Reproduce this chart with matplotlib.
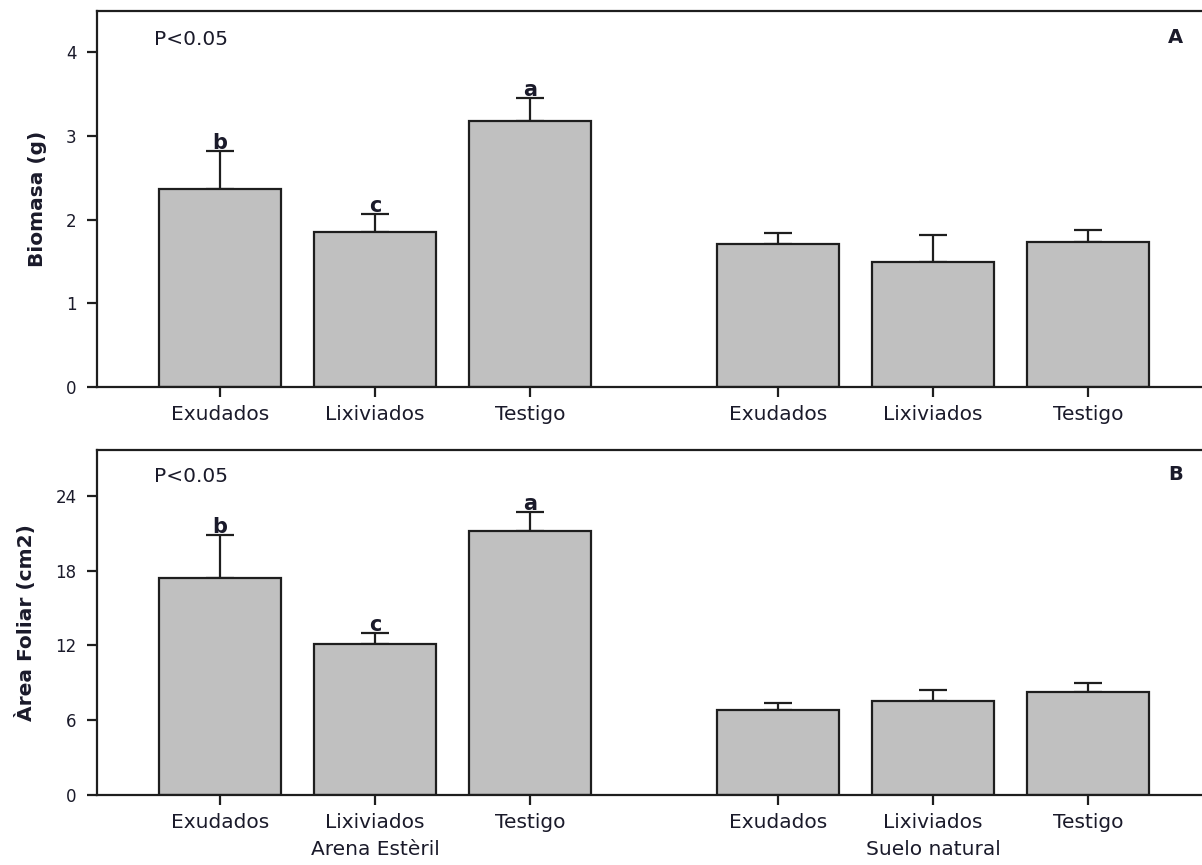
import numpy as np
import matplotlib.pyplot as plt

# treatments per substrate
tratamientos = ["Exudados", "Lixiviados", "Testigo", "Exudados", "Lixiviados", "Testigo"]
sustratos = ["Arena Estèril", "Suelo natural"]

# biomass (g): means and upper error
biomasa = [2.36, 1.85, 3.18, 1.71, 1.49, 1.73]
biomasa_err = [0.46, 0.21, 0.27, 0.13, 0.33, 0.14]
biomasa_letras = ["b", "c", "a", "", "", ""]

# leaf area (cm2): means and upper error
area = [17.38, 12.07, 21.2, 6.76, 7.48, 8.21]
area_err = [3.46, 0.91, 1.49, 0.56, 0.89, 0.72]
area_letras = ["b", "c", "a", "", "", ""]

x = np.array([0, 1, 2, 3.6, 4.6, 5.6])

plt.rcParams["font.family"] = "DejaVu Sans"
fig = plt.figure(figsize=(12.02, 8.65), dpi=100)
ax1 = fig.add_axes([0.0811, 0.5526, 0.9189, 0.4347])
ax2 = fig.add_axes([0.0811, 0.0815, 0.9189, 0.3983])

txt = "#1a1a2a"


def panel(ax, vals, errs, letras, ylim, yticks, ylabel, tag):
    ax.bar(x, vals, width=0.79, color="#c0c0c0", edgecolor="#1e1e1e",
           linewidth=1.6, zorder=2)
    ax.errorbar(x, vals, yerr=[np.zeros(len(vals)), errs], fmt="none",
                ecolor="#1e1e1e", elinewidth=1.6, capsize=10.4, capthick=1.6,
                zorder=1)
    # significance letters sitting on the caps
    for xi, v, e, l in zip(x, vals, errs, letras):
        if l:
            ax.annotate(l, (xi, v + e), xytext=(0, 1.5), textcoords="offset points",
                        ha="center", va="baseline", fontsize=15,
                        fontweight="bold", color=txt)
    ax.set_xlim(-0.79, 6.335)
    ax.set_ylim(0, ylim)
    ax.set_yticks(yticks)
    ax.set_xticks(x)
    ax.set_xticklabels(tratamientos, fontsize=14.5, color=txt)
    ax.tick_params(axis="y", labelsize=12, colors="#1e1e1e", labelcolor=txt,
                   length=7, width=1.6, pad=8)
    ax.tick_params(axis="x", length=7, width=1.6, pad=6, colors="#1e1e1e",
                   labelcolor=txt)
    for s in ["left", "bottom", "top"]:
        ax.spines[s].set_linewidth(1.6)
        ax.spines[s].set_color("#1e1e1e")
    ax.spines["right"].set_visible(False)
    ax.set_ylabel(ylabel, fontsize=14.5, fontweight="bold", color=txt, labelpad=14)
    ax.text(0.051, 0.95, "P<0.05", transform=ax.transAxes, fontsize=14.5,
            color=txt, va="top")
    ax.text(0.976, 0.955, tag, transform=ax.transAxes, fontsize=14,
            fontweight="bold", color=txt, va="top", ha="center")


panel(ax1, biomasa, biomasa_err, biomasa_letras, 4.49, [0, 1, 2, 3, 4],
      "Biomasa (g)", "A")
panel(ax2, area, area_err, area_letras, 27.7, [0, 6, 12, 18, 24],
      "Àrea Foliar (cm2)", "B")

# substrate names under the middle bar of each group
for xi, s in zip([x[1], x[4]], sustratos):
    ax2.text(xi, -0.16, s, transform=ax2.get_xaxis_transform(), ha="center",
             va="center", fontsize=14.5, color=txt)

fig.savefig("out.png", dpi=100)
